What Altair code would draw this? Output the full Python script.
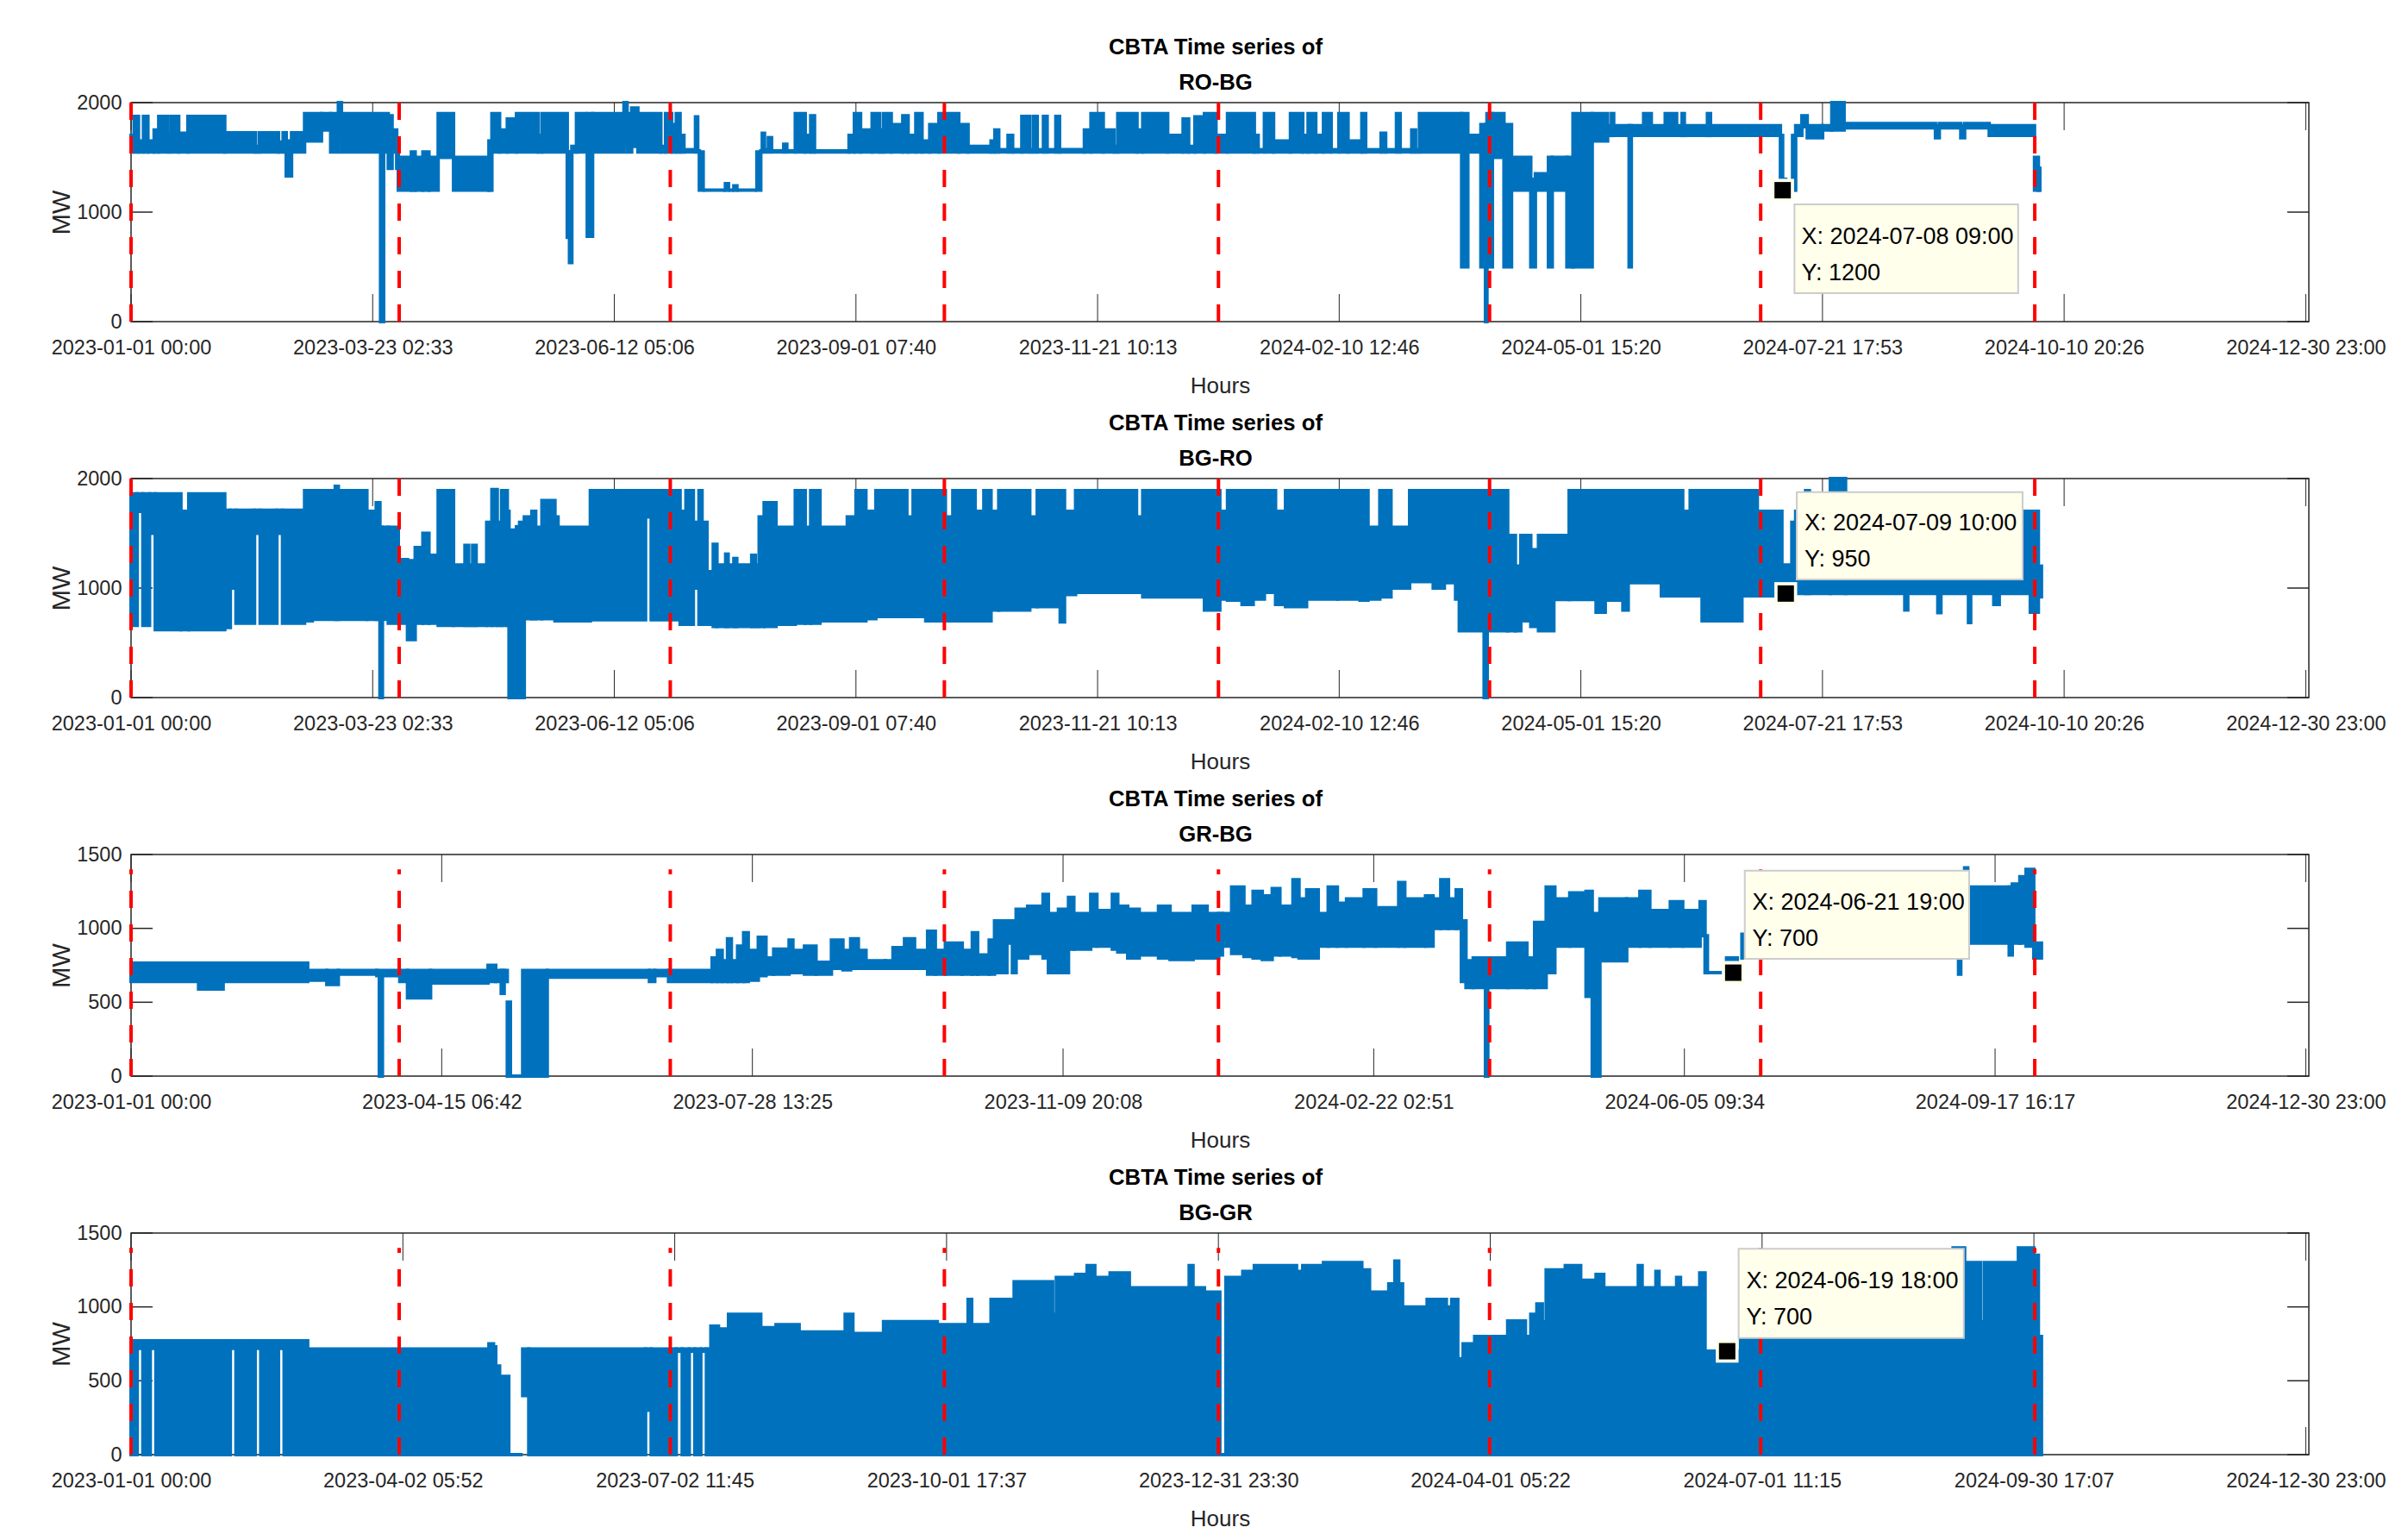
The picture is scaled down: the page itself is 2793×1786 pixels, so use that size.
import altair as alt
import pandas as pd

BLUE = "#0072BD"
FONT = "Liberation Sans"
X_MAX = 17544
QUARTERS = [0, 2160, 4344, 6552, 8760, 10944, 13128, 15336]
LAST_TICK = 17519

ticks_9 = ["2023-01-01 00:00","2023-03-23 02:33","2023-06-12 05:06","2023-09-01 07:40","2023-11-21 10:13",
           "2024-02-10 12:46","2024-05-01 15:20","2024-07-21 17:53","2024-10-10 20:26","2024-12-30 23:00"]
ticks_7 = ["2023-01-01 00:00","2023-04-15 06:42","2023-07-28 13:25","2023-11-09 20:08",
           "2024-02-22 02:51","2024-06-05 09:34","2024-09-17 16:17","2024-12-30 23:00"]
ticks_8 = ["2023-01-01 00:00","2023-04-02 05:52","2023-07-02 11:45","2023-10-01 17:37","2023-12-31 23:30",
           "2024-04-01 05:22","2024-07-01 11:15","2024-09-30 17:07","2024-12-30 23:00"]

# ---- RO-BG: hours since start, upper and lower envelope of the dense line
ro_bg = [
(0,1700,1550),(25,1875,1550),(60,1650,1550),(100,1875,1550),(136,1650,1550),(186,1750,1550),(223,1875,1550),(297,1720,1550),
(322,1875,1550),(384,1720,1550),(458,1875,1550),(755,1725,1550),(1002,1600,1550),(1033,1725,1550),(1188,1640,1550),(1225,1725,1550),
(1250,1650,1330),(1293,1725,1550),(1398,1900,1650),(1534,1900,1750),(1608,1900,1550),(1670,2000,1700),(1695,1900,1550),(2010,1600,0),
(2035,1900,1550),(2072,1880,1400),(2103,1750,1550),(2140,1600,1400),(2153,1500,1200),(2258,1550,1200),(2289,1500,1200),(2351,1550,1200),
(2400,1500,1200),(2474,1900,1500),(2598,1500,1200),(2883,1650,1200),(2907,1900,1550),(2969,1750,1550),(3031,1850,1550),(3105,1900,1550),
(3279,1700,1550),(3310,1900,1550),(3514,1550,770),(3532,1550,540),(3551,1600,1550),(3588,1900,1550),(3662,1550,1550),(3675,1900,780),
(3718,1900,1550),(3971,2000,1600),(3996,1900,1550),(4033,1950,1600),(4083,1900,1550),(4268,1600,1550),(4306,1900,1550),(4355,1800,1550),
(4392,1900,1550),(4423,1700,1550),(4454,1570,1550),(4547,1870,1550),(4565,1560,1550),(4578,1550,1200),(4609,1200,1200),(4788,1260,1200),
(4813,1200,1200),(4856,1240,1200),(4881,1200,1200),(5042,1550,1200),(5073,1560,1550),(5085,1720,1550),(5103,1570,1550),(5134,1680,1550),
(5160,1560,1550),(5258,1620,1550),(5283,1560,1550),(5351,1900,1550),(5431,1700,1550),(5475,1880,1550),(5506,1560,1550),(5784,1700,1550),
(5827,1900,1550),(5877,1750,1550),(5970,1900,1550),(6031,1750,1550),(6062,1900,1550),(6124,1800,1550),(6217,1880,1550),(6260,1700,1550),
(6322,1900,1550),(6372,1650,1550),(6434,1800,1550),(6508,1900,1550),(6668,1800,1550),(6743,1600,1550),(6928,1650,1550),(6959,1750,1550),
(6990,1570,1550),(7065,1700,1550),(7102,1570,1550),(7176,1875,1550),(7240,1570,1550),(7269,1875,1550),(7300,1570,1550),(7350,1875,1550),
(7380,1570,1550),(7450,1875,1550),(7480,1570,1550),(7680,1750,1550),(7733,1900,1550),(7832,1750,1550),(7920,1600,1550),(7949,1900,1550),
(8104,1750,1550),(8150,1900,1550),(8351,1700,1550),(8475,1850,1550),(8520,1600,1550),(8570,1870,1550),(8647,1900,1550),(8740,1700,1550),
(8833,1900,1550),(9049,1700,1550),(9080,1570,1550),(9130,1900,1550),(9204,1650,1550),(9340,1900,1550),(9439,1700,1550),(9482,1900,1550),
(9544,1700,1550),(9606,1900,1550),(9668,1570,1550),(9730,1900,1550),(9804,1650,1550),(9915,1900,1550),(9946,1570,1550),(10070,1720,1550),
(10107,1570,1550),(10194,1900,1550),(10224,1570,1550),(10317,1750,1550),(10348,1570,1550),(10379,1900,1550),(10719,1900,500),(10769,1700,1550),
(10874,1800,500),(10911,1800,0),(10923,1900,500),(10967,1900,1500),(11060,1800,500),(11121,1500,1200),(11276,1300,500),(11313,1350,1200),
(11418,1500,500),(11449,1500,1200),(11567,1500,500),(11616,1900,500),(11771,1900,1650),(11895,1790,1700),(11926,1900,1700),(11944,1790,1700),
(12068,1790,500),(12086,1790,1700),(12185,1900,1700),(12247,1790,1700),(12359,1900,1700),(12451,1790,1700),(12495,1900,1700),(12513,1790,1700),
(12699,1900,1700),(12724,1790,1700),(13287,1700,1300),(13305,1300,1200),(13330,1200,1200),(13385,1700,1200),(13410,1790,1700),(13460,1880,1780),
(13503,1790,1680),(13627,1790,1750),(13701,2000,1750),(13800,1810,1770),(14536,1790,1680),(14567,1810,1770),(14740,1790,1680),(14771,1810,1770),
(14969,1790,1700),(15334,1500,1200),(15365,1400,1200)]
ro_bg_end = 15377

# ---- BG-RO
bg_ro = [
(0,1860,660),(50,1860,1700),(95,1860,660),(149,1860,1500),(195,1860,620),(402,1700,620),(465,1860,620),(755,1710,640),
(800,1710,1000),(845,1710,680),(995,1710,1500),(1040,1710,680),(1175,1710,1500),(1220,1710,680),(1398,1890,700),(1460,1890,715),
(1645,1930,715),(1670,1890,715),(1900,1700,715),(1975,1780,715),(2005,1555,0),(2025,1555,715),(2072,1555,680),(2153,1260,680),
(2227,1250,530),(2289,1370,680),(2351,1500,680),(2400,1300,680),(2474,1890,660),(2598,1210,660),(2690,1390,660),(2720,1210,660),
(2752,1390,660),(2780,1210,660),(2865,1600,660),(2907,1900,660),(2950,1600,660),(2985,1890,660),(3031,1700,660),(3045,1530,0),
(3105,1560,650),(3130,1600,0),(3168,1650,720),(3229,1700,720),(3260,1555,720),(3310,1800,720),(3415,1650,700),(3440,1555,700),
(3700,1890,710),(4145,1890,1650),(4190,1890,710),(4423,1700,670),(4470,1890,670),(4530,1600,1000),(4575,1890,670),(4600,1600,670),
(4640,1150,670),(4690,1400,650),(4720,1210,650),(4790,1310,650),(4810,1210,650),(4856,1270,650),(4880,1210,650),(5000,1300,650),
(5030,1210,650),(5060,1650,650),(5100,1780,650),(5196,1555,670),(5351,1890,680),(5431,1555,680),(5475,1890,680),(5550,1555,700),
(5770,1650,700),(5840,1890,700),(5920,1700,720),(6000,1890,740),(6250,1650,740),(6300,1890,740),(6402,1890,700),(6560,1650,700),
(6620,1890,700),(6800,1700,700),(6870,1890,700),(6928,1700,800),(6990,1890,800),(7240,1650,830),(7300,1890,830),(7485,1890,690),
(7520,1700,940),(7609,1890,960),(8100,1650,960),(8150,1890,920),(8647,1890,800),(8771,1700,900),
(8833,1890,890),(8950,1890,850),(9040,1890,900),(9130,1890,960),(9220,1700,850),(9300,1890,830),(9470,1890,900),(9720,1890,900),
(9900,1890,890),(9965,1555,900),(10060,1890,920),(10150,1555,1000),(10300,1890,1060),(10490,1890,1000),(10580,1890,1050),(10670,1890,900),
(10700,1890,610),(10900,1890,0),(10925,1890,610),
(11090,1480,610),(11152,1200,610),(11196,1480,700),(11276,1350,650),(11338,1480,610),(11462,1480,895),(11585,1890,895),(11802,1890,780),
(11876,1890,890),(12018,1890,800),(12061,1890,1050),(12328,1890,930),(12500,1700,930),(12560,1890,930),(12656,1890,700),(12977,1890,930),
(13101,1700,930),(13299,1210,950),(13379,1600,950),(13410,1700,950),(13490,1890,950),(13520,1700,950),(13689,2000,950),(13812,1700,950),
(14289,1700,800),(14313,1700,950),(14555,1700,775),(14580,1700,950),(14802,1700,685),(14820,1700,950),(15006,1700,850),(15050,1700,950),
(15300,1700,780),(15365,1200,920)]
bg_ro_end = 15390

# ---- GR-BG
gr_bg = [
(0,765,640),(544,765,590),(742,765,640),(1423,715,650),(1577,715,620),(1670,715,690),(1980,715,680),(2000,700,0),
(2025,715,680),(2165,715,640),(2227,715,530),(2413,715,630),(2876,750,640),(2938,715,640),(2982,715,560),(3006,715,640),
(3031,500,0),(3056,0,0),(3155,715,0),(3353,715,670),(4176,715,640),(4219,715,680),(4330,715,640),
(4681,800,640),(4724,850,640),(4762,780,640),(4805,930,640),(4836,780,640),(4886,880,640),(4935,970,640),(4972,850,650),
(5053,940,680),(5115,800,690),(5177,860,690),(5301,920,700),(5332,850,700),(5425,880,690),(5518,770,690),(5642,920,730),
(5735,850,720),(5797,930,730),(5859,850,730),(5921,780,730),(6076,780,730),(6138,870,730),(6231,930,730),(6312,850,730),
(6417,980,690),(6479,850,690),(6560,900,690),(6696,850,690),(6777,970,690),(6820,820,690),(6913,920,690),(6956,1050,700),
(7056,1050,900),(7100,1050,700),(7130,1130,800),(7223,1150,830),(7347,1230,800),(7390,1100,700),(7471,1130,700),(7552,1210,860),
(7595,1100,860),(7731,1230,880),(7781,1120,880),(7905,1230,860),(7949,1150,840),(8029,1130,800),(8122,1100,820),(8277,1150,800),
(8370,1100,790),(8556,1150,800),(8669,1100,800),(8762,1100,820),(8792,1100,880),(8866,1280,830),(8965,1150,810),(9039,1250,800),
(9113,1220,790),(9193,1270,820),(9255,1150,820),(9360,1330,810),(9409,1200,800),(9471,1260,800),(9564,1100,880),(9644,1280,880),
(9718,1170,880),(9792,1200,880),(9934,1260,880),(10026,1140,880),(10212,1310,880),(10261,1200,880),(10428,1220,880),(10489,1200,1000),
(10551,1330,1000),(10613,1200,1000),(10675,1260,1000),(10717,1050,640),(10754,780,600),
(10812,800,600),(10911,800,0),(10930,800,600),(11090,900,600),(11245,800,600),(11307,1040,600),(11400,1280,700),(11470,1200,880),
(11590,1240,880),(11721,1250,540),(11771,1100,0),(11833,1200,780),(12049,1200,880),(12155,1250,880),(12235,1120,880),(12400,1180,880),
(12500,1120,880),(12640,1180,950),(12680,950,700),(12699,700,700),
(12853,800,790),(12940,700,700),(12977,960,800),(14722,1280,690),(14740,1280,810),(14771,1410,900),(14796,1280,900),(15130,1280,820),
(15155,1300,900),(15216,1350,900),(15266,1400,880),(15328,900,800)]
gr_bg_end = 15390

# ---- BG-GR
bg_gr = [
(0,770,0),(50,770,720),(95,770,0),(155,770,720),(200,770,0),(800,770,720),(845,770,0),(1000,770,720),
(1045,770,0),(1188,770,720),(1233,770,0),(1423,715,0),(2883,750,0),(2920,730,0),(2938,600,0),(2969,530,0),
(3043,0,0),(3155,715,400),(3204,715,0),(4145,715,300),(4190,715,0),(4392,715,700),(4440,715,0),(4497,715,700),
(4542,715,0),(4590,715,700),(4635,715,0),(4671,870,0),(4732,850,0),(4813,950,0),(5073,860,0),(5196,880,0),
(5382,830,0),(5753,950,0),(5815,820,0),(6062,900,0),(6495,880,0),(6743,1050,0),(6772,880,0),(6928,1050,0),
(7114,1170,0),(7424,950,0),(7454,1200,0),(7609,1220,0),(7702,1280,0),(7764,1200,0),(7887,1230,0),(8042,1130,0),
(8524,1280,0),(8555,1130,0),(8647,1100,0),(8771,0,0),(8820,1200,0),(8956,1240,0),(9049,1280,0),(9389,1240,0),
(9439,1280,0),(9606,1300,0),(9915,1250,0),(9977,1100,0),(10132,1155,0),(10181,1310,0),(10212,1155,0),(10243,1000,0),
(10441,1050,0),(10596,1000,0),(10639,1050,0),(10688,650,0),(10731,750,0),(10824,800,0),(11090,905,0),(11233,800,0),
(11276,950,0),(11325,1020,0),(11369,900,0),(11400,1250,0),(11554,1280,0),(11678,1180,0),(11802,1220,0),(11864,1130,0),
(12142,1280,0),(12173,1130,0),(12284,1240,0),(12309,1130,0),(12451,1200,0),(12482,1130,0),(12637,1230,0),(12680,700,0),
(12965,1000,0),(12977,1100,0),(14678,1400,0),(14771,1300,0),(14900,900,0),(14930,1300,0),(15204,1400,0),(15328,1350,0),(15365,800,0)]
bg_gr_end = 15390


def panel(name, rows, end, ymax, yticks, xticks, h, red_top, marker, tip, box, t1, t2):
    n = len(xticks) - 1
    tick_vals = [LAST_TICK * i / n for i in range(n + 1)]
    step = LAST_TICK / n
    lab = "[" + ",".join(f"'{t}'" for t in xticks) + "]"
    xs = alt.Scale(domain=[0, X_MAX], nice=False, zero=False)
    ys = alt.Scale(domain=[0, ymax], nice=False)
    xaxis = alt.Axis(values=tick_vals, labelExpr=f"{lab}[round(datum.value/{step})]", title="Hours", grid=False,
                     domain=False, ticks=False, labelFont=FONT, labelFontSize=23.5, labelColor="#262626",
                     labelPadding=18, labelOverlap=False, labelFlush=False, labelLimit=400, titleFont=FONT, titleFontSize=26,
                     titleFontWeight="normal", titleColor="#262626", titlePadding=20)
    yaxis = alt.Axis(values=yticks, title="MW", grid=False, domain=False, ticks=False, labelFont=FONT,
                     labelFontSize=23.5, labelColor="#262626", labelPadding=11, labelOverlap=False, labelFlush=False,
                     titleFont=FONT, titleFontSize=29, titleFontWeight="normal", titleColor="#262626",
                     titlePadding=2, format="d")
    df = pd.DataFrame(rows, columns=["x", "hi", "lo"])
    df["x2"] = df["x"].shift(-1).fillna(end)
    W = 2526
    tx = pd.DataFrame({"x": tick_vals})
    ty = pd.DataFrame({"y": yticks})
    TC = "#262626"
    X = lambda f="x:Q": alt.X(f, scale=xs, axis=xaxis)
    Y = lambda f="y:Q": alt.Y(f, scale=ys, axis=yaxis)
    L = []
    L.append(alt.Chart(tx).mark_rule(color=TC, strokeWidth=1).encode(x=X(), y=alt.value(h), y2=alt.value(h - 32)))
    L.append(alt.Chart(tx).mark_rule(color=TC, strokeWidth=1).encode(x=X(), y=alt.value(0), y2=alt.value(32)))
    L.append(alt.Chart(ty).mark_rule(color=TC, strokeWidth=1.5).encode(y=Y(), x=alt.value(0), x2=alt.value(25)))
    L.append(alt.Chart(ty).mark_rule(color=TC, strokeWidth=1.5).encode(y=Y(), x=alt.value(W - 25), x2=alt.value(W)))
    L.append(alt.Chart(df).mark_rect(color=BLUE, stroke=BLUE, strokeWidth=4, clip=False).encode(
        x=X(), x2="x2:Q", y=Y("hi:Q"), y2="lo:Q"))
    red = pd.DataFrame({"x": QUARTERS, "y0": [0] * len(QUARTERS), "y1": [red_top] * len(QUARTERS)})
    L.append(alt.Chart(red).mark_rule(color="#FF0000", strokeWidth=4, strokeDash=[20, 19]).encode(
        x=X(), y=Y("y0:Q"), y2="y1:Q"))
    one = pd.DataFrame({"a": [t1], "b": [t2]})
    L.append(alt.Chart(one).mark_rect(fill="#FFFFEC", stroke="#CCCCCC", strokeWidth=2).encode(
        x=alt.value(box[0]), x2=alt.value(box[1]), y=alt.value(box[2]), y2=alt.value(box[3])))
    m = pd.DataFrame({"x": [marker[0]], "y": [marker[1]]})
    L.append(alt.Chart(m).mark_square(color="#FFFFEC", size=700, opacity=1).encode(x=X(), y=Y()))
    L.append(alt.Chart(m).mark_square(color="#000000", size=361, opacity=1).encode(x=X(), y=Y()))
    L.append(alt.Chart(one).mark_text(align="left", font=FONT, fontSize=27, color="#000000").encode(
        x=alt.value(tip[0]), y=alt.value(tip[1]), text="a:N"))
    L.append(alt.Chart(one).mark_text(align="left", font=FONT, fontSize=27, color="#000000").encode(
        x=alt.value(tip[0]), y=alt.value(tip[2]), text="b:N"))
    return alt.layer(*L).properties(
        width=W, height=h,
        title=alt.Title(text=["CBTA Time series of", name], font=FONT, fontSize=25.7, fontWeight="bold",
                        color="#000000", lineHeight=41, anchor="middle", dx=-5, dy=3, offset=0),
    )


p1 = panel("RO-BG", ro_bg, ro_bg_end, 2000, [0, 1000, 2000], ticks_9, 254, 2000, (13305, 1200),
           (1937.4, 156, 198), (1929.4, 2188.8, 118, 221), "X: 2024-07-08 09:00", "Y: 1200")
p2 = panel("BG-RO", bg_ro, bg_ro_end, 2000, [0, 1000, 2000], ticks_9, 254, 2000, (13330, 950),
           (1941, 52, 94), (1932, 2194, 15.7, 117), "X: 2024-07-09 10:00", "Y: 950")
p3 = panel("GR-BG", gr_bg, gr_bg_end, 1500, [0, 500, 1000, 1500], ticks_7, 257, 1400, (12907, 700),
           (1880.5, 56, 98), (1871.7, 2132, 18.7, 121), "X: 2024-06-21 19:00", "Y: 700")
p4 = panel("BG-GR", bg_gr, bg_gr_end, 1500, [0, 500, 1000, 1500], ticks_8, 257, 1400, (12858, 700),
           (1873.4, 56, 98.3), (1864.6, 2125.8, 18.3, 121.7), "X: 2024-06-19 18:00", "Y: 700")

chart = alt.vconcat(p1, p2, p3, p4, spacing=182, bounds="flush").properties(
    padding={"left": 48, "top": 33, "right": 0, "bottom": 0}
).configure_view(stroke="#262626", strokeWidth=1.5)

chart.save("out.html", embed_options={"renderer": "svg", "actions": False})
